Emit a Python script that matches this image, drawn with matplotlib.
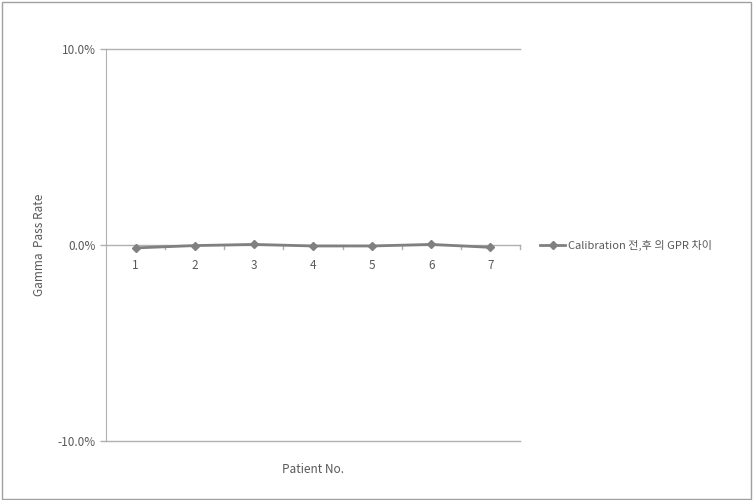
import matplotlib
matplotlib.use("Agg")
import matplotlib.pyplot as plt
from matplotlib.ticker import FuncFormatter
from matplotlib.patches import Rectangle

plt.rcParams['font.family'] = ['Noto Sans CJK KR', 'DejaVu Sans']

patients = ["1", "2", "3", "4", "5", "6", "7"]
gpr_diff = [-0.0015, -0.0003, 0.0003, -0.0005, -0.0005, 0.0003, -0.0012]
series_name = "Calibration 전,후 의 GPR 차이"
y_ticks = [-0.10, 0.0, 0.10]

txt = "#595959"
line_c = "#808080"
grid_c = "#b0b0b0"
fs = 8.5

fig = plt.figure(figsize=(7.53, 5.0), dpi=100)
ax = fig.add_axes([106/753, 1-441/500, (520-106)/753, (441-49)/500])

x = list(range(1, len(patients) + 1))
ax.plot(x, gpr_diff, color=line_c, lw=2, marker='D', ms=4.5,
        markerfacecolor=line_c, markeredgecolor=line_c, label=series_name, zorder=3)

ax.set_xlim(0.5, len(patients) + 0.5)
ax.set_ylim(-0.10, 0.10)
ax.set_yticks(y_ticks)
ax.yaxis.set_major_formatter(FuncFormatter(lambda v, p: f"{v*100:.1f}%"))
for v in y_ticks:
    ax.axhline(v, color=grid_c, lw=1, zorder=1, clip_on=False)

ax.spines['bottom'].set_visible(False)
ax.spines['top'].set_visible(False)
ax.spines['right'].set_visible(False)
ax.spines['left'].set_color(grid_c)
ax.tick_params(axis='y', colors=grid_c, labelcolor=txt, labelsize=fs, length=4, width=1)
ax.set_xticks([])
for i, lab in zip(x, patients):
    ax.annotate(lab, xy=(i, 0), xytext=(0, -10), textcoords='offset points',
                ha='center', va='top', color=txt, fontsize=fs)
for i in range(1, len(patients) + 1):
    ax.plot([i + 0.5, i + 0.5], [0, -0.002], color=grid_c, lw=1, clip_on=False, zorder=1)

ax.set_xlabel("Patient No.", color=txt, fontsize=fs)
ax.xaxis.set_label_coords(0.5, -0.055)
ax.set_ylabel("Gamma  Pass Rate", color=txt, fontsize=fs)
ax.yaxis.set_label_coords(-0.145, 0.5)

leg = ax.legend(loc='center left', bbox_to_anchor=(1.025, 0.5), frameon=False,
                fontsize=8, handlelength=2.2, handletextpad=0.3, labelcolor=txt)

fig.patches.append(Rectangle((0.002, 0.003), 0.995, 0.994, transform=fig.transFigure,
                             fill=False, edgecolor="#a0a0a0", lw=1))

fig.savefig("out.png", dpi=100)
